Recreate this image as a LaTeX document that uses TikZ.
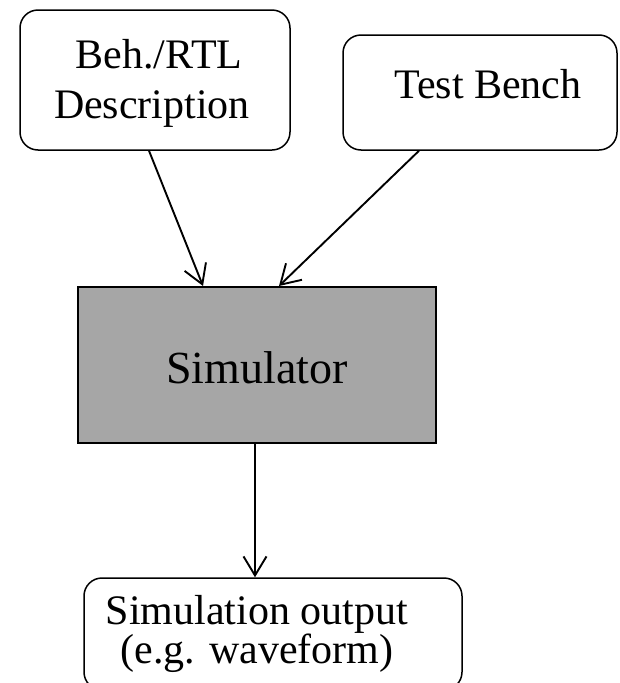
\documentclass[tikz,border=0pt]{standalone}
\usepackage{fontspec}
\setmainfont{Liberation Serif}
\usetikzlibrary{arrows.meta}
\definecolor{simgray}{HTML}{A6A6A6}
\begin{document}
\begin{tikzpicture}[x=1pt,y=-1pt,
  box/.style={draw, line width=1.5pt, rounded corners=18pt, inner sep=0pt},
  simbox/.style={draw, line width=2pt, fill=simgray, inner sep=0pt},
  txt/.style={anchor=base, inner sep=0pt, font=\fontsize{42}{50}\selectfont},
  bigtxt/.style={anchor=base, inner sep=0pt, font=\fontsize{46}{54}\selectfont},
  arr/.style={line width=1.9pt, -{Straight Barb[length=19pt,width=23pt,line width=1.9pt]}}]
\useasboundingbox (0,0) rectangle (619,683);
\clip (0,0) rectangle (619,683);
\node[box, minimum width=270pt, minimum height=140pt] (beh) at (155,80) {};
\node[box, minimum width=274pt, minimum height=115pt] (tb) at (480,92.5) {};
\node[simbox, minimum width=358pt, minimum height=156pt] (sim) at (257,365) {};
\node[box, minimum width=378pt, minimum height=112pt] (out) at (273,634) {};
\node[txt] (beh1) at (159,68) {Beh./RTL};
\node[txt] (beh2) at (152,118) {Description};
\node[txt] (tbt) at (488,98) {Test Bench};
\node[bigtxt] (simt) at (257,383) {Simulator};
\node[txt] (out1) at (257,624) {Simulation output};
\node[txt] (out2) at (257,663) {(e.g. waveform)};
\draw[arr] ([xshift=-6pt]beh.south) -- ([xshift=-54pt]sim.north);
\draw[arr] ([xshift=-61pt]tb.south) -- ([xshift=22pt]sim.north);
\draw[arr] ([xshift=-2pt]sim.south) -- ([xshift=-2pt]sim.south |- out.north);
\end{tikzpicture}
\end{document}
